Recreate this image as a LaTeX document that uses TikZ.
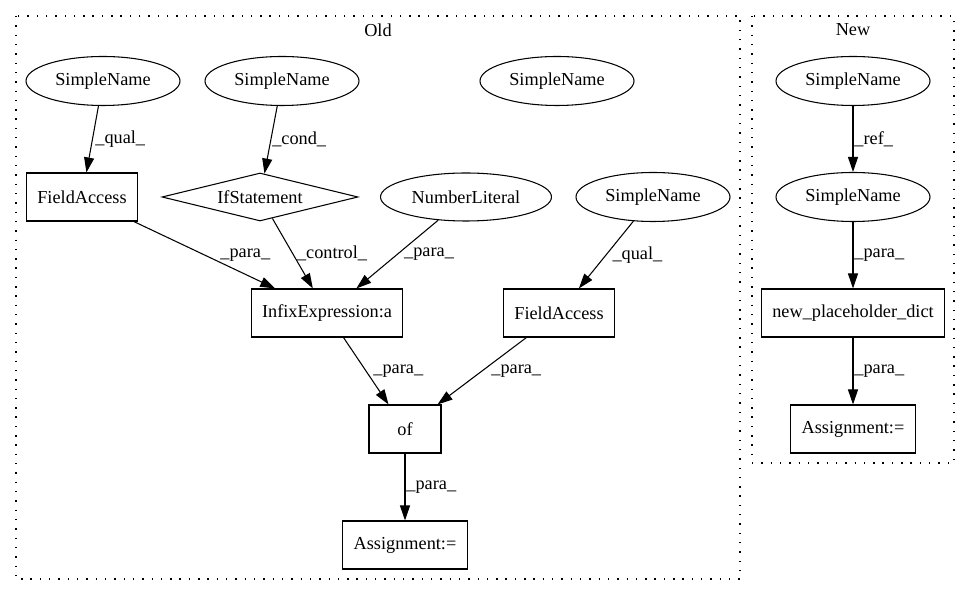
\documentclass[tikz,border=0pt]{standalone}
\usepackage{fontspec}
\setmainfont{Liberation Serif}
\usepackage{tikz}
\tikzset{every picture/.style={/utils/exec={\fontsize{10.4}{12.5}\selectfont}}}
\usetikzlibrary{arrows.meta, shapes.geometric}
\tikzset{
  astnode/.style={draw, line width=0.6pt, inner sep=0pt, minimum height=0.96cm},
  box/.style={astnode, rectangle, inner xsep=0.22cm, minimum width=1.44cm},
  oval/.style={astnode, ellipse, minimum width=3.08cm, minimum height=0.98cm},
  cond/.style={astnode, diamond, aspect=4, minimum width=3.92cm},
  flow/.style={-{Triangle[length=0.3cm, width=0.2cm]}, line width=0.6pt},
  lbl/.style={anchor=west, inner sep=0.5pt},
  cluster/.style={dash pattern=on 0.8pt off 4.5pt, line width=0.9pt}
}

\begin{document}
\begin{tikzpicture}[x=0.2mm, y=-0.2mm]
        \useasboundingbox (0,0) rectangle (971,596);
        % clusters
        \draw[cluster] (16,16) rectangle (740,579);
        \draw[cluster] (752,16) rectangle (954,463);
        \node (oldlbl) at (378,30) {Old};
        \node (newlbl) at (853,30) {New};

        % old tree
        \node[oval] (sn1) at (103,81) {SimpleName};
        \node[oval] (sn2) at (282,81) {SimpleName};
        \node[oval] (sn3) at (557,81) {SimpleName};
        \node[box] (fa1) at (82,197) {FieldAccess};
        \node[cond] (ifs) at (260,197) {IfStatement};
        \node[oval, minimum width=3.42cm, minimum height=0.96cm] (num) at (466,197) {NumberLiteral};
        \node[oval] (sn4) at (653,197) {SimpleName};
        \node[box] (infix) at (327,313) {InfixExpression:a};
        \node[box] (fa2) at (559,313) {FieldAccess};
        \node[box] (of) at (405,429) {of};
        \node[box] (asg) at (405,545) {Assignment:=};

        \draw[flow] (sn1) -- node[lbl, midway, xshift=0.03cm] {\_qual\_} (fa1);
        \draw[flow] (sn2) -- node[lbl, midway] {\_cond\_} (ifs);
        \draw[flow] (fa1) -- node[lbl, midway, xshift=0.29cm] {\_para\_} (infix);
        \draw[flow] (ifs) -- node[lbl, midway, xshift=0.06cm] {\_control\_} (infix);
        \draw[flow] (num) -- node[lbl, midway, xshift=0.11cm] {\_para\_} (infix);
        \draw[flow] (sn4) -- node[lbl, midway, xshift=0.1cm] {\_qual\_} (fa2);
        \draw[flow] (infix) -- node[lbl, midway, xshift=0.12cm] {\_para\_} (of);
        \draw[flow] (fa2) -- node[lbl, midway, xshift=0.16cm] {\_para\_} (of);
        \draw[flow] (of) -- node[lbl, midway] {\_para\_} (asg);

        % new tree
        \node[oval] (nsn1) at (853,81) {SimpleName};
        \node[oval] (nsn2) at (853,197) {SimpleName};
        \node[box] (npd) at (853,313) {new\_placeholder\_dict};
        \node[box] (nasg) at (853,429) {Assignment:=};

        \draw[flow] (nsn1) -- node[lbl, midway] {\_ref\_} (nsn2);
        \draw[flow] (nsn2) -- node[lbl, midway] {\_para\_} (npd);
        \draw[flow] (npd) -- node[lbl, midway] {\_para\_} (nasg);
    \end{tikzpicture}
\end{document}
